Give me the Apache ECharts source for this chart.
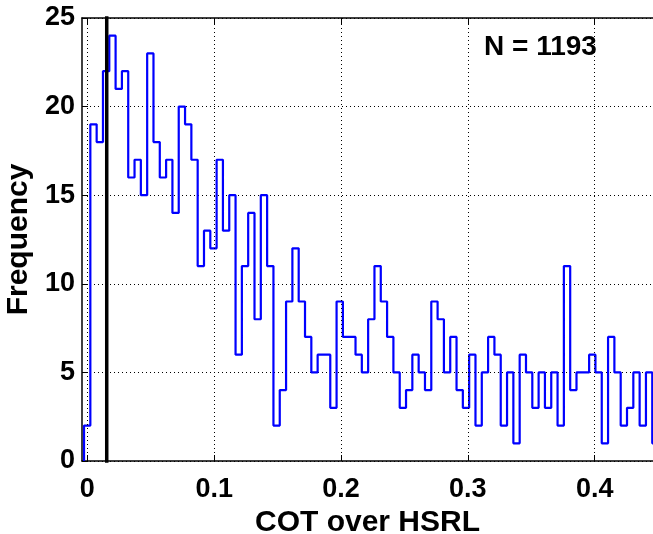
<!DOCTYPE html>
<html>
<head>
<meta charset="utf-8">
<script src="https://cdn.jsdelivr.net/npm/echarts@6/dist/echarts.min.js"></script>
<style>
html,body{margin:0;padding:0;background:#fff;}
#chart{width:653px;height:534px;}
</style>
</head>
<body>
<div id="chart"></div>
<script>
// Histogram counts per bin (bin width ~0.005)
const binCounts = [
  2, 19, 18, 22, 24, 21, 22, 16, 17, 15,
  23, 18, 16, 17, 14, 20, 19, 17, 11, 13,
  12, 17, 13, 15, 6, 11, 14, 8, 15, 11,
  2, 4, 9, 12, 9, 7, 5, 6, 6, 3,
  9, 7, 7, 6, 5, 8, 11, 9, 7, 5,
  3, 4, 6, 5, 4, 9, 8, 5, 7, 4,
  3, 6, 2, 5, 7, 6, 2, 5, 1, 6,
  5, 3, 5, 3, 5, 2, 11, 4, 5, 5,
  6, 5, 1, 7, 5, 2, 3, 5, 2, 5,
  1
];
const binStart = -0.0026;
const binWidth = 0.004978;
const xTicks = [0, 0.1, 0.2, 0.3, 0.4];
const yTicks = [0, 5, 10, 15, 20, 25];
const markerX = 0.0153;
const annotation = 'N = 1193';
const xTitle = 'COT over HSRL';
const yTitle = 'Frequency';

// Build stair outline from bins
const stairs = [[binStart, 0]];
binCounts.forEach((n, i) => {
  const e0 = binStart + i * binWidth;
  const e1 = binStart + (i + 1) * binWidth;
  stairs.push([e0, n]);
  stairs.push([e1, n]);
});

const FONT = "'Liberation Sans', Arial, Helvetica, sans-serif";
const gridDash = { color: '#000', width: 1, type: [1, 3] };

const chart = echarts.init(document.getElementById('chart'), null, { renderer: 'canvas' });
chart.setOption({
  animation: false,
  backgroundColor: '#fff',
  grid: { left: 82, right: 0, top: 18, bottom: 73, containLabel: false, outerBoundsMode: 'none' },
  xAxis: [{
    type: 'value', min: -0.0042, max: 0.446, position: 'bottom',
    axisLine: { show: true, onZero: false, lineStyle: { color: '#000', width: 1.5 } },
    axisTick: { show: true, inside: true, length: 6, customValues: xTicks, lineStyle: { color: '#000' } },
    axisLabel: {
      show: true, customValues: xTicks, margin: 15,
      fontFamily: FONT, fontWeight: 'bold', fontSize: 27, color: '#000',
      formatter: v => String(Math.round(v * 10) / 10)
    },
    splitLine: { show: false },
    name: xTitle, nameLocation: 'middle', nameGap: 37,
    nameTextStyle: { fontFamily: FONT, fontWeight: 'bold', fontSize: 30, color: '#000' }
  }, {
    type: 'value', min: -0.0042, max: 0.446, position: 'top',
    axisLine: { show: true, onZero: false, lineStyle: { color: '#000', width: 1.5 } },
    axisTick: { show: true, inside: true, length: 6, customValues: xTicks, lineStyle: { color: '#000' } },
    axisLabel: { show: false },
    splitLine: { show: false }
  }],
  yAxis: [{
    type: 'value', min: 0, max: 25, interval: 5,
    axisLine: { show: true, onZero: false, lineStyle: { color: '#000', width: 1.5 } },
    axisTick: { show: true, inside: true, length: 6, lineStyle: { color: '#000' } },
    axisLabel: {
      margin: 7, fontFamily: FONT, fontWeight: 'bold', fontSize: 27, color: '#000'
    },
    splitLine: { show: true, lineStyle: gridDash },
    name: yTitle, nameLocation: 'middle', nameGap: 47, nameRotate: 90,
    nameTextStyle: { fontFamily: FONT, fontWeight: 'bold', fontSize: 30, color: '#000' }
  }],
  series: [{
    type: 'line',
    xAxisIndex: 0, yAxisIndex: 0,
    data: [],
    silent: true,
    markLine: {
      silent: true, symbol: 'none', label: { show: false },
      lineStyle: gridDash,
      data: xTicks.map(v => ({ xAxis: v }))
    }
  }, {
    type: 'line',
    data: stairs,
    showSymbol: false, symbol: 'none',
    lineStyle: { color: '#0000ff', width: 2.2 },
    clip: true, silent: true
  }, {
    type: 'line',
    data: [[markerX, 0], [markerX, 25]],
    showSymbol: false, symbol: 'none',
    lineStyle: { color: '#000', width: 3.5, cap: 'square' },
    clip: false, silent: true
  }],
  graphic: [{
    type: 'text', left: 484, top: 33,
    style: { text: annotation, font: "bold 28px 'Liberation Sans', Arial, sans-serif", fill: '#000' }
  }]
});
</script>
</body>
</html>
